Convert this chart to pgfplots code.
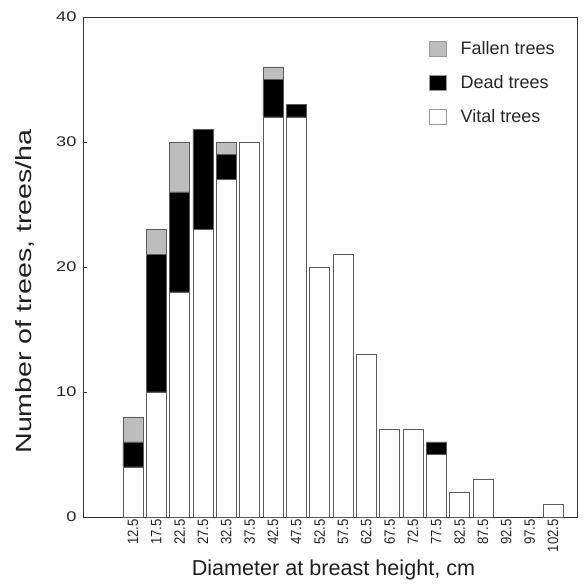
\documentclass[border=0pt]{standalone}
\usepackage{pgfplots}
\pgfplotsset{compat=1.18}
\usepackage{fontspec}
\setmainfont{Liberation Sans}
\newfontfamily\ytickfont[FakeStretch=1.3]{Liberation Sans}
\newfontfamily\xtickfont[FakeStretch=0.88]{Liberation Sans}
\newfontfamily\ylabfont[FakeStretch=1.3]{Liberation Sans}
\definecolor{fallen}{HTML}{BDBDBD}
\definecolor{edge}{HTML}{5A5A5A}
\begin{document}
\begin{tikzpicture}
\begin{axis}[
  scale only axis,
  width=494pt, height=500pt,
  clip=false,
  ybar stacked,
  bar width=4.29,
  xmin=1.79, xmax=107.65,
  ymin=0, ymax=40,
  ytick={0,10,20,30,40},
  xtick={12.5,17.5,22.5,27.5,32.5,37.5,42.5,47.5,52.5,57.5,62.5,67.5,72.5,77.5,82.5,87.5,92.5,97.5,102.5},
  xticklabels={12.5,17.5,22.5,27.5,32.5,37.5,42.5,47.5,52.5,57.5,62.5,67.5,72.5,77.5,82.5,87.5,92.5,97.5,102.5},
  x tick label style={rotate=90, anchor=east, font=\xtickfont\fontsize{15}{17}\selectfont, color=black!85, inner sep=2pt},
  y tick label style={font=\ytickfont\fontsize{14}{16}\selectfont, color=black!85, xshift=-3pt},
  /pgf/number format/assume math mode=true,
  xtick style={draw=none},
  ytick pos=left,
  tick align=inside,
  ytick style={black!80},
  major tick length=4pt,
  axis line style={black!80},
  xlabel={Diameter at breast height, cm},
  ylabel={\ylabfont Number of trees, trees/ha},
  xlabel style={font=\fontsize{21.6}{24}\selectfont, color=black!88,
    at={(axis description cs:0.507,-0.118)}, anchor=base},
  ylabel style={font=\fontsize{22}{24}\selectfont, color=black!88,
    at={(axis description cs:-0.117,0.451)}, anchor=center, rotate=0},
  legend style={at={(axis description cs:0.7004,0.953)}, anchor=north west, draw=none, fill=none,
    font=\fontsize{18}{20}\selectfont, text=black!85, row sep=19pt, inner sep=0pt,
    nodes={inner sep=0pt}, column sep=0pt,
    legend cell align=left},
  legend image code/.code={\draw[#1, draw=black!40] (0pt,-7.5pt) rectangle (17pt,7.5pt); \path (31pt,0pt);},
  reverse legend,
]
\addplot[fill=white, draw=edge] coordinates {
(12.5,4) (17.5,10) (22.5,18) (27.5,23) (32.5,27) (37.5,30) (42.5,32) (47.5,32)
(52.5,20) (57.5,21) (62.5,13) (67.5,7) (72.5,7) (77.5,5) (82.5,2) (87.5,3)
(92.5,0) (97.5,0) (102.5,1)};
\addlegendentry{Vital trees}
\addplot[fill=black, draw=edge] coordinates {
(12.5,2) (17.5,11) (22.5,8) (27.5,8) (32.5,2) (37.5,0) (42.5,3) (47.5,1)
(52.5,0) (57.5,0) (62.5,0) (67.5,0) (72.5,0) (77.5,1) (82.5,0) (87.5,0)
(92.5,0) (97.5,0) (102.5,0)};
\addlegendentry{Dead trees}
\addplot[fill=fallen, draw=edge] coordinates {
(12.5,2) (17.5,2) (22.5,4) (27.5,0) (32.5,1) (37.5,0) (42.5,1) (47.5,0)
(52.5,0) (57.5,0) (62.5,0) (67.5,0) (72.5,0) (77.5,0) (82.5,0) (87.5,0)
(92.5,0) (97.5,0) (102.5,0)};
\addlegendentry{Fallen trees}
\path ([shift={(-83pt,-63pt)}]rel axis cs:0,0) rectangle ([shift={(7pt,17pt)}]rel axis cs:1,1);
\end{axis}
\end{tikzpicture}
\end{document}
